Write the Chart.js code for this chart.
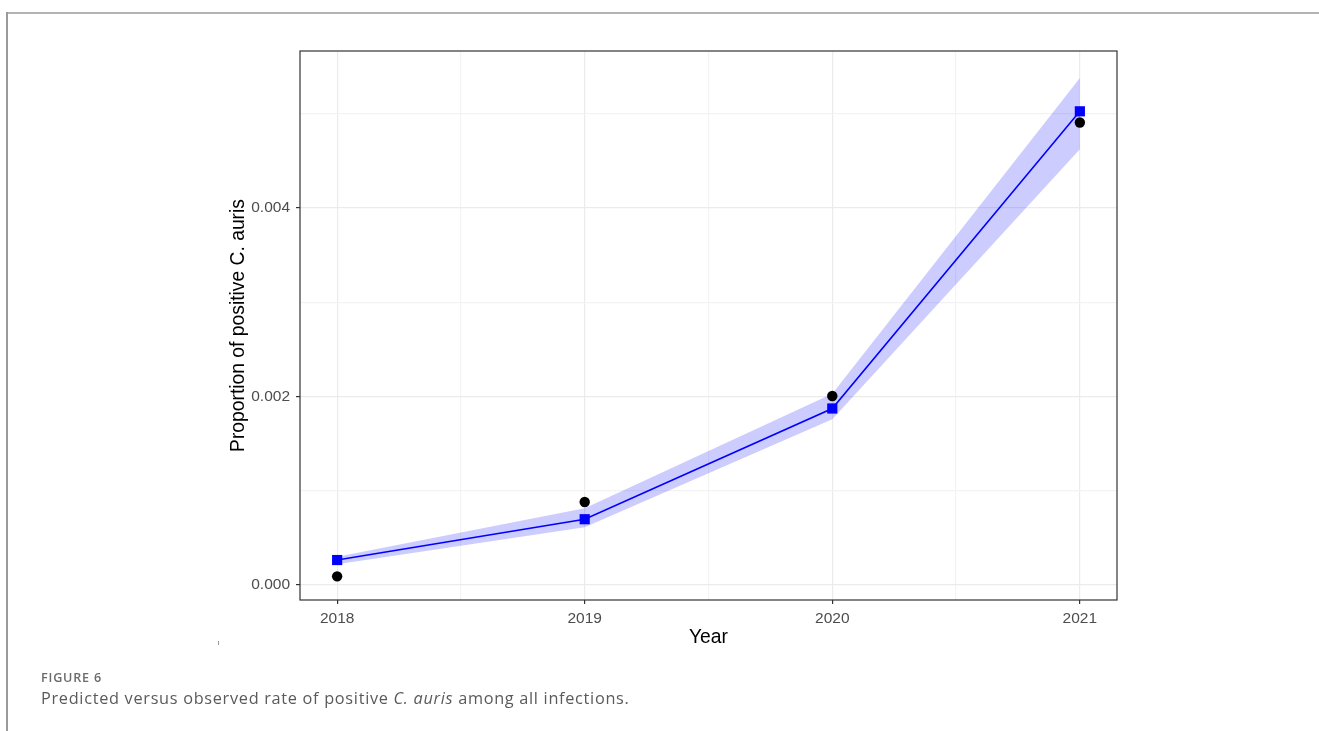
<!DOCTYPE html>
<html>
<head>
<meta charset="utf-8">
<script src="https://cdn.jsdelivr.net/npm/chart.js@4/dist/chart.umd.min.js"></script>
<style>
  html, body { margin: 0; padding: 0; background: #fff; }
  body { width: 1319px; height: 731px; position: relative; overflow: hidden; }
  #frameTop { position: absolute; left: 6px; top: 12px; width: 1313px; height: 0; border-top: 2px solid #b4b4b4; }
  #frameLeft { position: absolute; left: 6px; top: 12px; width: 0; height: 719px; border-left: 2px solid #9a9a9a; }
  #wrap { position: absolute; left: 0; top: 0; width: 1319px; height: 731px; }
  #mark { position: absolute; left: 218px; top: 641px; width: 1px; height: 4px; background: #999; }
  .cap { position: absolute; left: 41px; white-space: nowrap; font-family: "Open Sans", sans-serif; line-height: 1; }
  #figLabel { top: 671.5px; font-size: 12.6px; font-weight: 600; letter-spacing: 0.8px; color: #6b6b6b; }
  #figText { top: 689.5px; font-size: 16.3px; font-weight: 400; letter-spacing: 0.7px; color: #5a5a5a; }
</style>
</head>
<body>
<div id="frameTop"></div>
<div id="frameLeft"></div>
<div id="wrap"><canvas id="chart" width="1319" height="731"></canvas></div>
<div id="mark"></div>
<div class="cap" id="figLabel">FIGURE 6</div>
<div class="cap" id="figText">Predicted versus observed rate of positive <i>C. auris</i> among all infections.</div>
<script>
// Years on the x axis
const years = [2018, 2019, 2020, 2021];
// Model prediction with its confidence band
const predicted = [0.000265, 0.000698, 0.001873, 0.005026];
const lowerCI   = [0.000220, 0.000614, 0.001760, 0.004624];
const upperCI   = [0.000300, 0.000815, 0.002030, 0.005380];
// Observed proportions
const observed  = [0.000092, 0.000881, 0.002005, 0.004907];
// Axis ticks
const xMajorTicks = [2018, 2019, 2020, 2021];
const xMinorTicks = [2018.5, 2019.5, 2020.5];
const yMajorTicks = [0, 0.002, 0.004];
const yMinorTicks = [0.001, 0.003, 0.005];

const pts = (ys) => years.map((x, i) => ({ x: x, y: ys[i] }));
const isMajor = (list, v) => list.some(t => Math.abs(t - v) < 1e-9);

// Panel border around the plotting area
const panelBorder = {
  id: 'panelBorder',
  afterDraw(chart) {
    const { ctx, chartArea: a } = chart;
    ctx.save();
    ctx.strokeStyle = '#333333';
    ctx.lineWidth = 1.2;
    ctx.strokeRect(a.left, a.top, a.right - a.left, a.bottom - a.top);
    ctx.restore();
  }
};

const tickFont = { family: 'Liberation Sans, Arial, sans-serif', size: 15.5 };
const titleFont = { family: 'Liberation Sans, Arial, sans-serif', size: 19.3 };

new Chart(document.getElementById('chart'), {
  type: 'line',
  data: {
    datasets: [
      { data: pts(upperCI), borderWidth: 0, pointRadius: 0, fill: false, tension: 0, order: 4 },
      { data: pts(lowerCI), borderWidth: 0, pointRadius: 0, fill: '-1', backgroundColor: 'rgba(0,0,255,0.2)', tension: 0, order: 3 },
      { data: pts(predicted), borderColor: '#0000ff', borderWidth: 1.6, pointStyle: 'rect', pointRadius: 7.2,
        pointBackgroundColor: '#0000ff', pointBorderWidth: 0, fill: false, tension: 0, order: 2 },
      { data: pts(observed), showLine: false, pointStyle: 'circle', pointRadius: 5.2,
        pointBackgroundColor: '#000000', pointBorderWidth: 0, order: 1 }
    ]
  },
  options: {
    responsive: false,
    animation: false,
    events: [],
    layout: { padding: { left: 210, right: 202, top: 51, bottom: 71 } },
    plugins: { legend: { display: false }, tooltip: { enabled: false } },
    scales: {
      x: {
        type: 'linear',
        min: 2017.85,
        max: 2021.15,
        afterBuildTicks: s => { s.ticks = xMajorTicks.concat(xMinorTicks).map(v => ({ value: v })); },
        afterFit: s => { s.height = 60; },
        ticks: {
          font: tickFont, color: '#4d4d4d', padding: 5, maxRotation: 0, autoSkip: false,
          callback: v => isMajor(xMajorTicks, v) ? String(v) : ''
        },
        grid: {
          color: c => (c.tick && isMajor(xMajorTicks, c.tick.value)) ? '#ebebeb' : '#f3f3f3',
          lineWidth: 1.2,
          tickLength: 4,
          tickWidth: 1.2,
          tickColor: c => (c.tick && isMajor(xMajorTicks, c.tick.value)) ? '#333333' : 'rgba(0,0,0,0)'
        },
        border: { display: false },
        title: { display: true, text: 'Year', font: titleFont, color: '#000', padding: { top: 0, bottom: 10.6 } }
      },
      y: {
        type: 'linear',
        min: -0.000159,
        max: 0.005666,
        afterBuildTicks: s => { s.ticks = yMajorTicks.concat(yMinorTicks).map(v => ({ value: v })); },
        afterFit: s => { s.width = 90; },
        ticks: {
          font: tickFont, color: '#4d4d4d', padding: 6,
          callback: v => isMajor(yMajorTicks, v) ? v.toFixed(3) : ''
        },
        grid: {
          color: c => (c.tick && isMajor(yMajorTicks, c.tick.value)) ? '#ebebeb' : '#f3f3f3',
          lineWidth: 1.2,
          tickLength: 4,
          tickWidth: 1.2,
          tickColor: c => (c.tick && isMajor(yMajorTicks, c.tick.value)) ? '#333333' : 'rgba(0,0,0,0)'
        },
        border: { display: false },
        title: { display: true, text: 'Proportion of positive C. auris', font: titleFont, color: '#000', padding: { top: 17.4, bottom: 0 } }
      }
    }
  },
  plugins: [panelBorder]
});
</script>
</body>
</html>
